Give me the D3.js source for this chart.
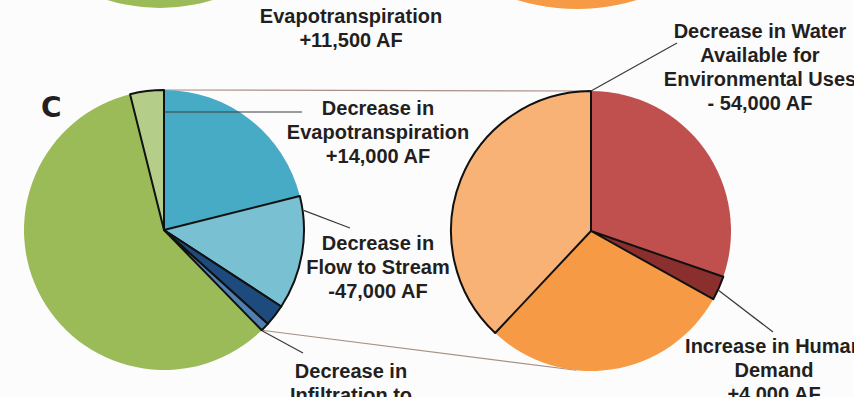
<!DOCTYPE html>
<html>
<head>
<meta charset="utf-8">
<script src="https://cdn.jsdelivr.net/npm/d3@7"></script>
<style>
  body { margin: 0; background: #fdfcfd; }
  svg { display: block; }
  text { font-family: "Liberation Sans", Arial, sans-serif; font-weight: bold; fill: #231f20; }
</style>
</head>
<body>
<div id="chart"></div>
<script>
// panel C, left pie: share of each slice (percent of the circle)
const leftKeys = ["evapotranspiration", "flowToStream", "streamOther", "infiltration", "remaining", "evapOther"];
const leftValues = [21.1, 13.1, 2.5, 1.0, 58.4, 3.9];
const leftColors = ["#48abc6", "#79c0d3", "#1d4b7d", "#4f80b2", "#9bbb59", "#b4cd88"];
const leftOutlined = [false, true, true, true, false, true];

// panel C, right pie
const rightKeys = ["environmental", "humanDemand", "other", "remaining"];
const rightValues = [30.3, 2.8, 28.9, 38.0];
const rightColors = ["#c0504d", "#8a2f2e", "#f79a46", "#f8b275"];
const rightOutlined = [false, true, false, true];

// labels
const topLabel = ["Evapotranspiration", "+11,500 AF"];
const evapLabel = ["Decrease in", "Evapotranspiration", "+14,000 AF"];
const streamLabel = ["Decrease in", "Flow to Stream", "-47,000 AF"];
const infiltrationLabel = ["Decrease in", "Infiltration to"];
const envLabel = ["Decrease in Water", "Available for", "Environmental Uses", "- 54,000 AF"];
const humanLabel = ["Increase in Human", "Demand", "+4,000 AF"];

const width = 854, height = 397;
const leftPie = {cx: 164, cy: 230, r: 140};
const rightPie = {cx: 591, cy: 231, r: 140};
const rad = d => d * Math.PI / 180;

function point(p, a, r) {
  return [p.cx + r * Math.sin(a), p.cy - r * Math.cos(a)];
}

const svg = d3.select("#chart").append("svg")
    .attr("width", width)
    .attr("height", height);

// bits of panel B that are cut off at the top
svg.append("circle").attr("cx", 160).attr("cy", -170).attr("r", 178).attr("fill", "#9bbb59");
svg.append("circle").attr("cx", 577).attr("cy", -195).attr("r", 204).attr("fill", "#f79a46");

const pie = d3.pie().sort(null).value(d => d);
const arc = d3.arc().innerRadius(0);

function drawPie(p, values, colors, outlined, keys) {
  const arcs = pie(values);
  const g = svg.append("g").attr("transform", `translate(${p.cx},${p.cy})`);
  g.selectAll("path.fill")
    .data(arcs)
    .join("path")
      .attr("class", d => "fill " + keys[d.index])
      .attr("d", d => arc.outerRadius(p.r)(d))
      .attr("fill", d => colors[d.index]);
  // the outlined slices go on top so their black edges are not covered
  g.selectAll("path.edge")
    .data(arcs.filter(d => outlined[d.index]))
    .join("path")
      .attr("class", "edge")
      .attr("d", d => arc.outerRadius(p.r)(d))
      .attr("fill", d => colors[d.index])
      .attr("stroke", "#111")
      .attr("stroke-width", 2)
      .attr("stroke-linejoin", "round");
  return arcs;
}

// zoom connectors between the pies, drawn under the pies
const connectors = svg.append("g");

const leftArcs = drawPie(leftPie, leftValues, leftColors, leftOutlined, leftKeys);
const rightArcs = drawPie(rightPie, rightValues, rightColors, rightOutlined, rightKeys);

const topA = point(leftPie, leftArcs[0].startAngle, leftPie.r);
const topB = point(rightPie, rightArcs[0].startAngle, rightPie.r);
const botA = point(leftPie, leftArcs[3].endAngle, leftPie.r);
const botB = point(rightPie, rad(186), rightPie.r);
connectors.selectAll("line")
  .data([[topA, topB], [botA, botB]])
  .join("line")
    .attr("x1", d => d[0][0]).attr("y1", d => d[0][1])
    .attr("x2", d => d[1][0]).attr("y2", d => d[1][1])
    .attr("stroke", "#a89088")
    .attr("stroke-width", 1.2);
// move connectors to the back
connectors.lower();

// leader lines from slices to labels
const leaders = [
  {from: point(leftPie, leftArcs[0].startAngle, 118), to: [302, 112]},
  {from: point(leftPie, rad(82), leftPie.r + 1), to: [350, 228]},
  {from: point(leftPie, leftArcs[3].endAngle, leftPie.r + 1), to: [303, 353]},
  {from: point(rightPie, rightArcs[0].startAngle, rightPie.r), to: [677, 43]},
  {from: point(rightPie, rad(115), rightPie.r + 1), to: [773, 332]}
];
svg.append("g").selectAll("line")
  .data(leaders)
  .join("line")
    .attr("x1", d => d.from[0]).attr("y1", d => d.from[1])
    .attr("x2", d => d.to[0]).attr("y2", d => d.to[1])
    .attr("stroke", "#3a3a3a")
    .attr("stroke-width", 1.2);

function label(lines, x, y) {
  svg.append("text")
      .attr("text-anchor", "middle")
      .attr("font-size", 20)
    .selectAll("tspan")
    .data(lines)
    .join("tspan")
      .attr("x", x)
      .attr("y", (d, i) => y + i * 24)
      .text(d => d);
}

label(topLabel, 351, 23);
label(evapLabel, 378, 115);
label(streamLabel, 378, 250);
label(infiltrationLabel, 351, 378);
label(envLabel, 760, 38);
label(humanLabel, 774, 353);

svg.append("text")
    .attr("x", 41)
    .attr("y", 117)
    .attr("font-size", 28)
    .style("font-family", "'DejaVu Sans', sans-serif")
    .style("font-weight", "bold")
    .text("C");
</script>
</body>
</html>
